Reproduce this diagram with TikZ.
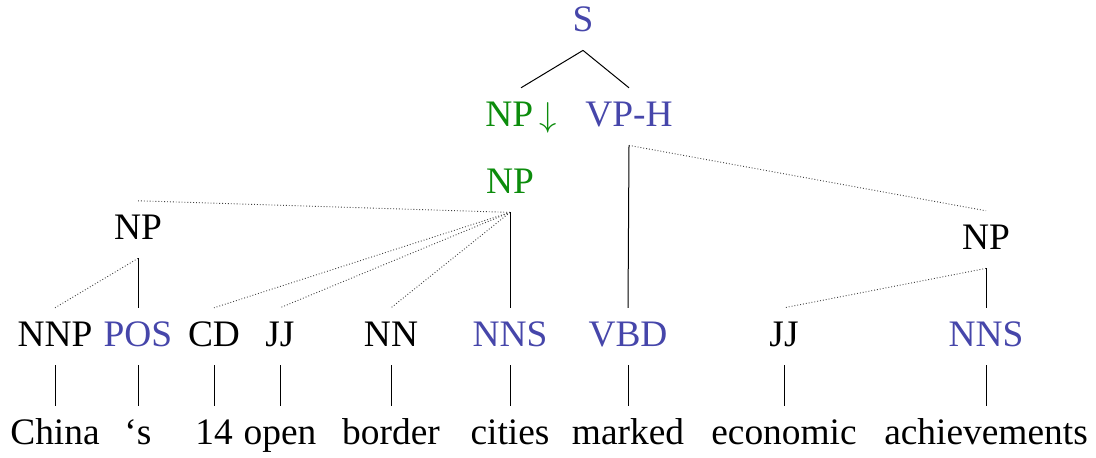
\documentclass[tikz,border=0pt]{standalone}
\usepackage{fontspec}
\setmainfont{Liberation Serif}
\definecolor{headblue}{RGB}{70,70,170}
\definecolor{substgreen}{RGB}{12,140,12}
\begin{document}
\begin{tikzpicture}[x=50pt,y=-50pt,
	lbl/.style={anchor=base,inner xsep=0pt,inner ysep=7pt,text height=12.4pt,text depth=2pt,
		font=\fontsize{18.7}{22}\selectfont},
	head/.style={lbl,text=headblue},
	subst/.style={lbl,text=substgreen},
	edge/.style={line width=0.5pt},
	spine/.style={line width=0.45pt,densely dotted,black!75}]
	\useasboundingbox (0,0) rectangle (10.96,4.58);
	%Elementary tree of the verb
	\node [head] (S) at (5.83,0.32) {S};
	\node [subst] (NPsub) at (5.21,1.27) {NP\thinspace$\downarrow$};
	\node [head] (VPH) at (6.29,1.27) {VP-H};
	\draw [edge] (S.south) -- (NPsub.north);
	\draw [edge] (S.south) -- (VPH.north);
	%Noun phrases
	\node [subst] (NPtop) at (5.10,1.94) {NP};
	\node [lbl] (NPposs) at (1.38,2.40) {NP};
	\node [lbl] (NPobj) at (9.86,2.50) {NP};
	%Tags and words
	\foreach \name/\x/\tag/\word/\st in {nnp/0.55/NNP/China/lbl,pos/1.38/POS/‘s/head,
		cd/2.14/CD/14/lbl,jj/2.80/JJ/open/lbl,nn/3.91/NN/border/lbl,nns/5.10/NNS/cities/head,
		vbd/6.28/VBD/marked/head,jjb/7.84/JJ/economic/lbl,nnsb/9.86/NNS/achievements/head} {
		\node [\st] (\name) at (\x,3.47) {\tag};
		\node [lbl] (w-\name) at (\x,4.45) {\word};
		\draw [edge] (\name.south) -- (w-\name.north);
	}
	%Subject NP
	\draw [spine] (NPtop.south) -- (NPposs.north);
	\draw [spine] (NPtop.south) -- (cd.north);
	\draw [spine] (NPtop.south) -- (jj.north);
	\draw [spine] (NPtop.south) -- (nn.north);
	\draw [edge] (NPtop.south) -- (nns.north);
	\draw [spine] (NPposs.south) -- (nnp.north);
	\draw [edge] (NPposs.south) -- (pos.north);
	%Verb and object
	\draw [edge] (VPH.south) -- (vbd.north);
	\draw [spine] (VPH.south) -- (NPobj.north);
	\draw [spine] (NPobj.south) -- (jjb.north);
	\draw [edge] (NPobj.south) -- (nnsb.north);
\end{tikzpicture}
\end{document}
